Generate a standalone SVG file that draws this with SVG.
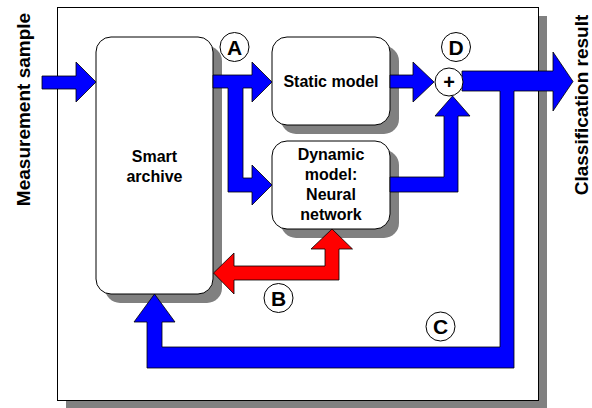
<svg xmlns="http://www.w3.org/2000/svg" width="592" height="408" viewBox="0 0 592 408">
<style>
.sh{fill:#808080;stroke:none}
.box{fill:#fff;stroke:#000;stroke-width:1}
.t{font-family:"Liberation Sans",Arial,sans-serif;font-weight:bold;fill:#000;text-anchor:middle}
.blue{fill:#0000ff;stroke:#000;stroke-width:0.8;stroke-linejoin:miter}
.red{fill:#ff0000;stroke:#000;stroke-width:0.8}
.lbl{fill:#fff;stroke:#000;stroke-width:1}
</style>
<rect width="592" height="408" fill="#fff"/>
<g id="frame">
<rect class="sh" x="66" y="16" width="481" height="394"/>
<rect class="box" x="57.5" y="7.5" width="481" height="393"/>
</g>
<text class="t" font-size="19" transform="translate(30,109.5) rotate(-90)">Measurement sample</text>
<text class="t" font-size="19" transform="translate(588,105) rotate(-90)">Classification result</text>
<g id="smart-archive">
<rect class="sh" x="105" y="46" width="117" height="257" rx="15"/>
<rect class="box" x="96" y="37" width="117" height="257" rx="15"/>
<text class="t" font-size="16" x="154.5" y="162">Smart</text>
<text class="t" font-size="16" x="154.5" y="182">archive</text>
</g>
<g id="static-model">
<rect class="sh" x="281" y="46" width="118" height="88" rx="15"/>
<rect class="box" x="272" y="37" width="118" height="88" rx="15"/>
<text class="t" font-size="16" x="331" y="87">Static model</text>
</g>
<g id="dynamic-model">
<rect class="sh" x="281" y="150" width="118" height="88" rx="15"/>
<rect class="box" x="272" y="141" width="118" height="88" rx="15"/>
<text class="t" font-size="16" x="331" y="159.5">Dynamic</text>
<text class="t" font-size="16" x="331" y="180">model:</text>
<text class="t" font-size="16" x="331" y="200">Neural</text>
<text class="t" font-size="16" x="331" y="219.5">network</text>
</g>
<g id="connectors">
<path class="blue" d="M42,76 L76,76 L76,62 L96,82 L76,102 L76,89 L42,89 Z"/>
<path class="blue" d="M213,75 L252,75 L252,62 L272,82 L252,102 L252,88 L243,88 L243,178 L252,178 L252,165 L272,185 L252,205 L252,192 L228,192 L228,88 L213,88 Z"/>
<path class="blue" d="M390,75 L413,75 L413,62 L434,82 L413,102 L413,88 L390,88 Z"/>
<path class="blue" d="M390,177 L444,177 L444,116 L435,116 L452.5,96 L470,116 L458,116 L458,192 L390,192 Z"/>
<path class="blue" d="M462,71 L553,71 L553,52 L573,81.5 L553,111 L553,91 L514,91 L514,368 L147,368 L147,322 L134,322 L154.5,294 L175,322 L162,322 L162,347 L500,347 L500,91 L462,91 Z"/>
<path class="red" d="M213.5,273 L234,253 L234,266 L325,266 L325,249 L311,249 L332,229 L352.5,249 L339,249 L339,280 L234,280 L234,294 Z"/>
</g>
<g id="sum">
<circle class="lbl" cx="449" cy="82" r="14"/>
<text class="t" font-size="20" x="449" y="89">+</text>
</g>
<g id="labels">
<circle class="lbl" cx="234.5" cy="47" r="14.5"/>
<text class="t" font-size="21" x="234.5" y="54.5">A</text>
<circle class="lbl" cx="278.5" cy="298" r="14.5"/>
<text class="t" font-size="21" x="278.5" y="305.5">B</text>
<circle class="lbl" cx="440.5" cy="326.5" r="14.5"/>
<text class="t" font-size="21" x="440.5" y="334">C</text>
<circle class="lbl" cx="456" cy="47" r="14.5"/>
<text class="t" font-size="21" x="456" y="54.5">D</text>
</g>
</svg>
